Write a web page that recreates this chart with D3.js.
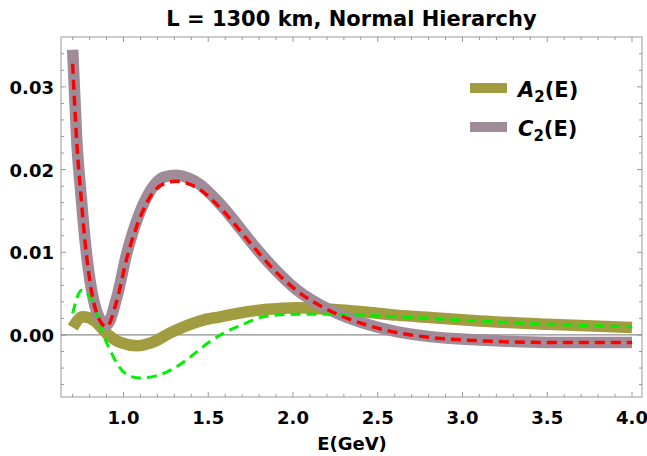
<!DOCTYPE html>
<html>
<head>
<meta charset="utf-8">
<script src="https://cdn.jsdelivr.net/npm/d3@7"></script>
<style>
  body { margin: 0; background: #fff; }
  text { font-family: "DejaVu Sans", sans-serif; font-weight: bold; }
</style>
</head>
<body>
<svg id="chart" width="647" height="456"></svg>
<script>
// energies (GeV) and values
const eA2 = [0.70, 0.76, 0.83, 0.90, 0.98, 1.08, 1.17, 1.27, 1.37, 1.47, 1.57, 1.67, 1.80, 1.92, 2.02, 2.22, 2.41, 2.61, 2.81, 3.10, 3.50, 4.00];
const A2  = [0.0009, 0.0022, 0.0017, 0.0002, -0.0009, -0.0013, -0.0009, 0.0002, 0.0011, 0.0018, 0.0022, 0.0026, 0.0030, 0.0032, 0.0033, 0.0031, 0.0028, 0.0024, 0.0021, 0.0017, 0.0013, 0.0009];

const eC2 = [0.70, 0.724, 0.75, 0.773, 0.812, 0.85, 0.90, 0.96, 1.02, 1.10, 1.17, 1.24, 1.31, 1.38, 1.45, 1.53, 1.61, 1.70, 1.79, 1.90, 2.02, 2.22, 2.42, 2.61, 2.81, 3.10, 3.50, 4.00];
const C2  = [0.0345, 0.0236, 0.0168, 0.0115, 0.0054, 0.0024, 0.0012, 0.0045, 0.0099, 0.0150, 0.0178, 0.0191, 0.0193, 0.0190, 0.0182, 0.0167, 0.0149, 0.0126, 0.0103, 0.0078, 0.0055, 0.0030, 0.0014, 0.0004, -0.0002, -0.0006, -0.0009, -0.0009];

const eRed = eC2;
const red  = [0.0328, 0.0234, 0.0166, 0.0113, 0.0052, 0.0022, 0.0010, 0.0041, 0.0093, 0.0143, 0.0171, 0.0183, 0.0186, 0.0183, 0.0176, 0.0162, 0.0145, 0.0123, 0.0101, 0.0076, 0.0054, 0.0029, 0.0013, 0.0003, -0.0003, -0.0007, -0.0009, -0.0009];

const eGreen = [0.70, 0.753, 0.822, 0.871, 0.92, 0.98, 1.04, 1.10, 1.215, 1.30, 1.373, 1.44, 1.51, 1.58, 1.648, 1.73, 1.825, 2.02, 2.22, 2.41, 2.61, 2.81, 3.10, 3.50, 4.00];
const green  = [0.0026, 0.0054, 0.0038, 0.0006, -0.0018, -0.0040, -0.0050, -0.0052, -0.0048, -0.0040, -0.0030, -0.0019, -0.0008, 0.0001, 0.0008, 0.0015, 0.0022, 0.0025, 0.0025, 0.0024, 0.0022, 0.0020, 0.0017, 0.0013, 0.0010];

const xMajor = [1.0, 1.5, 2.0, 2.5, 3.0, 3.5, 4.0];
const yMajor = [0.00, 0.01, 0.02, 0.03];
const legendNames = ["A", "C"];

const svg = d3.select("#chart");
const pLeft = 61, pRight = 642, pTop = 37, pBottom = 397;

const x = d3.scaleLinear().domain([0.6313, 4.059]).range([pLeft, pRight]);
const y = d3.scaleLinear().domain([-0.0075, 0.03603]).range([pBottom, pTop]);

// frame
svg.append("rect")
    .attr("x", pLeft).attr("y", pTop)
    .attr("width", pRight - pLeft).attr("height", pBottom - pTop)
    .attr("fill", "none").attr("stroke", "#9a9a9a").attr("stroke-width", 1);

// minor / major ticks on all four sides
const xMinor = d3.range(7, 41).map(d => d / 10);
const yMinor = d3.range(-3, 18).map(d => d * 0.002);
const tickG = svg.append("g").attr("stroke", "#9a9a9a").attr("stroke-width", 1);
xMinor.forEach(v => {
    const major = Math.abs(v * 2 - Math.round(v * 2)) < 1e-6;
    const len = major ? 5 : 3;
    tickG.append("line").attr("x1", x(v)).attr("x2", x(v)).attr("y1", pBottom).attr("y2", pBottom - len);
    tickG.append("line").attr("x1", x(v)).attr("x2", x(v)).attr("y1", pTop).attr("y2", pTop + len);
});
yMinor.forEach(v => {
    const major = Math.abs(v * 100 - Math.round(v * 100)) < 1e-6;
    const len = major ? 5 : 3;
    tickG.append("line").attr("y1", y(v)).attr("y2", y(v)).attr("x1", pLeft).attr("x2", pLeft + len);
    tickG.append("line").attr("y1", y(v)).attr("y2", y(v)).attr("x1", pRight).attr("x2", pRight - len);
});

// tick labels
svg.append("g").selectAll("text").data(xMajor).enter().append("text")
    .attr("x", d => x(d)).attr("y", 424)
    .attr("text-anchor", "middle").attr("font-size", 18)
    .text(d => d.toFixed(1));
svg.append("g").selectAll("text").data(yMajor).enter().append("text")
    .attr("x", 54).attr("y", d => y(d) + 7)
    .attr("text-anchor", "end").attr("font-size", 18)
    .text(d => d.toFixed(2));

// zero line
svg.append("line")
    .attr("x1", pLeft).attr("x2", pRight).attr("y1", y(0)).attr("y2", y(0))
    .attr("stroke", "#8c8c8c").attr("stroke-width", 1.2);

const line = d3.line().x(d => x(d[0])).y(d => y(d[1])).curve(d3.curveMonotoneX);
const plot = svg.append("g");

function drawCurve(es, vs, color, width, dash) {
    plot.append("path")
        .datum(es.map((e, i) => [e, vs[i]]))
        .attr("d", line)
        .attr("fill", "none")
        .attr("stroke", color)
        .attr("stroke-width", width)
        .attr("stroke-dasharray", dash);
}

drawCurve(eA2, A2, "#a19c40", 11.5, null);
drawCurve(eC2, C2, "#a08c98", 11.5, null);
drawCurve(eGreen, green, "#00f000", 3, "10,6");
drawCurve(eRed, red, "#ff0000", 3.5, "10,6");

// legend
const legColors = ["#a19c40", "#a08c98"];
legendNames.forEach((n, i) => {
    const ly = 88 + i * 39;
    svg.append("line")
        .attr("x1", 470).attr("x2", 507).attr("y1", ly).attr("y2", ly)
        .attr("stroke", legColors[i]).attr("stroke-width", 10);
    const t = svg.append("text").attr("x", 518).attr("y", ly + 9).attr("font-size", 21);
    t.append("tspan").attr("font-style", "italic").text(n);
    t.append("tspan").attr("font-size", 15).attr("dy", 5).text("2");
    t.append("tspan").attr("dy", -5).text("(E)");
});

// title and axis label
svg.append("text")
    .attr("x", (pLeft + pRight) / 2).attr("y", 26)
    .attr("text-anchor", "middle").attr("font-size", 21)
    .text("L = 1300 km, Normal Hierarchy");
svg.append("text")
    .attr("x", 352).attr("y", 450)
    .attr("text-anchor", "middle").attr("font-size", 18)
    .text("E(GeV)");
</script>
</body>
</html>
